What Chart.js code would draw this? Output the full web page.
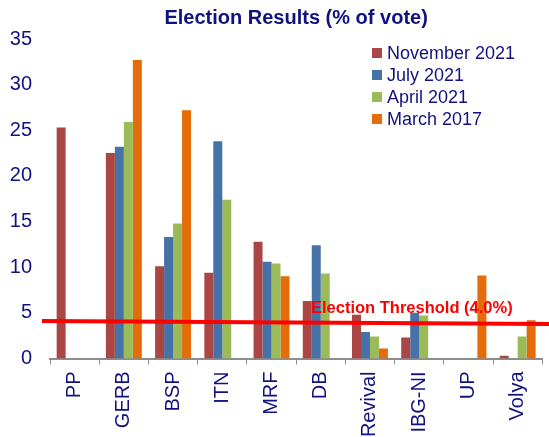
<!DOCTYPE html>
<html>
<head>
<meta charset="utf-8">
<title>Election Results</title>
<script src="https://cdn.jsdelivr.net/npm/chart.js@4"></script>
<style>
    html, body { margin: 0; padding: 0; background: #fff; }
    #wrap { width: 549px; height: 437px; }
</style>
</head>
<body>
<div id="wrap"><canvas id="electionChart"></canvas></div>
<script>
const parties = ['PP', 'GERB', 'BSP', 'ITN', 'MRF', 'DB', 'Revival', 'IBG-NI', 'UP', 'Volya'];
const seriesLabels = ['November 2021', 'July 2021', 'April 2021', 'March 2017'];
const seriesColors = ['#AA4643', '#4572A7', '#9BBB59', '#E46C0A'];

const november2021 = [25.3, 22.5, 10.1, 9.4, 12.8, 6.3, 4.8, 2.3, null, 0.3];
const july2021 = [null, 23.2, 13.3, 23.8, 10.6, 12.4, 2.9, 5.0, null, null];
const april2021 = [null, 25.9, 14.8, 17.4, 10.4, 9.3, 2.4, 4.7, null, 2.4];
const march2017 = [null, 32.7, 27.2, null, 9.0, null, 1.1, null, 9.1, 4.2];

const yTicks = [0, 5, 10, 15, 20, 25, 30, 35];
const threshold = 4.0;
const thresholdLabel = 'Election Threshold (4.0%)';

const navy = '#11117F';
const font = 'Liberation Sans, Arial, sans-serif';

const allSeries = [november2021, july2021, april2021, march2017];

// threshold line + label, and the legend sitting inside the plot
const overlayPlugin = {
    id: 'overlay',
    afterDatasetsDraw(chart) {
        const { ctx, chartArea, scales } = chart;
        const y = scales.y.getPixelForValue(threshold);
        ctx.save();
        ctx.strokeStyle = '#FF0000';
        ctx.lineWidth = 4;
        ctx.beginPath();
        ctx.moveTo(chartArea.left - 8, y - 1);
        ctx.lineTo(chart.width, y + 2);
        ctx.stroke();

        ctx.fillStyle = '#FF0000';
        ctx.font = 'bold 16.5px ' + font;
        ctx.textAlign = 'center';
        ctx.textBaseline = 'alphabetic';
        ctx.fillText(thresholdLabel, chartArea.left + chartArea.width * 0.735, y - 9);

        // legend
        const lx = chartArea.left + 322;
        let ly = chartArea.top + 9;
        ctx.font = '18px ' + font;
        ctx.textAlign = 'left';
        chart.data.datasets.forEach(ds => {
            ctx.fillStyle = ds.backgroundColor;
            ctx.fillRect(lx, ly, 10, 10);
            ctx.fillStyle = navy;
            ctx.fillText(ds.label, lx + 15, ly + 11);
            ly += 22;
        });
        ctx.restore();
    }
};

const ctx = document.getElementById('electionChart').getContext('2d');
new Chart(ctx, {
    type: 'bar',
    data: {
        labels: parties,
        datasets: seriesLabels.map((label, i) => ({
            label: label,
            data: allSeries[i],
            backgroundColor: seriesColors[i],
            borderWidth: 0,
            barPercentage: 1,
            categoryPercentage: 0.73
        }))
    },
    options: {
        responsive: true,
        maintainAspectRatio: false,
        animation: false,
        layout: { padding: { left: 8, right: 2, top: 0, bottom: 0 } },
        plugins: {
            legend: { display: false },
            tooltip: { enabled: false },
            title: {
                display: true,
                text: 'Election Results (% of vote)',
                color: navy,
                fullSize: false,
                font: { family: font, size: 20, weight: 'bold' },
                padding: { top: 6, bottom: 9 }
            }
        },
        scales: {
            x: {
                afterFit: axis => { axis.height = 78.5; },
                grid: {
                    drawOnChartArea: false,
                    drawTicks: true,
                    tickLength: 6,
                    color: '#8C8C8C'
                },
                border: { display: true, color: '#8C8C8C', width: 2 },
                ticks: {
                    color: navy,
                    font: { family: font, size: 20 },
                    minRotation: 90,
                    maxRotation: 90,
                    autoSkip: false,
                    padding: 7
                }
            },
            y: {
                min: yTicks[0],
                max: yTicks[yTicks.length - 1],
                afterFit: axis => { axis.width = 42; },
                grid: { display: false, drawTicks: false },
                border: { display: false },
                afterBuildTicks: axis => { axis.ticks = yTicks.map(v => ({ value: v })); },
                ticks: {
                    color: navy,
                    font: { family: font, size: 20 },
                    padding: 18
                }
            }
        }
    },
    plugins: [overlayPlugin]
});
</script>
</body>
</html>
